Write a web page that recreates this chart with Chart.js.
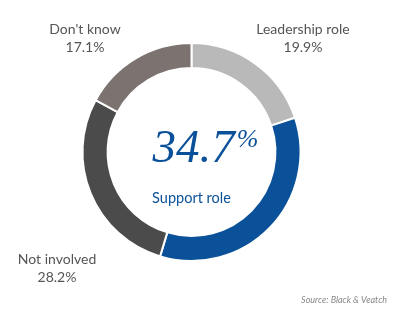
<!DOCTYPE html>
<html>
<head>
<meta charset="utf-8">
<script src="https://cdn.jsdelivr.net/npm/chart.js@4/dist/chart.umd.min.js"></script>
<style>
html,body{margin:0;padding:0;background:#fff;}
#wrap{position:relative;width:400px;height:324px;}
canvas{display:block;}
</style>
</head>
<body>
<div id="wrap"><canvas id="c" width="400" height="324"></canvas></div>
<script>
const categories = ["Leadership role", "Support role", "Not involved", "Don't know"];
const values = [19.9, 34.7, 28.2, 17.1];
const valueLabels = ["19.9%", "34.7%", "28.2%", "17.1%"];
const colors = ["#b9b9b9", "#0b5199", "#4b4b4b", "#7c7371"];
const highlight = { number: "34.7", unit: "%", label: "Support role" };
const source = "Source: Black & Veatch";

const labelPos = [
  { x: 303, y: 29 },
  null,
  { x: 57, y: 259 },
  { x: 85, y: 29 }
];

const textPlugin = {
  id: 'texts',
  afterDraw(chart) {
    const ctx = chart.ctx;
    const meta = chart.getDatasetMeta(0);
    const arc = meta.data[0];
    const cx = arc.x, cy = arc.y;
    ctx.save();
    ctx.textAlign = 'center';
    ctx.textBaseline = 'middle';
    ctx.fillStyle = '#555';
    ctx.font = '14px Lato, "Open Sans", sans-serif';
    categories.forEach((c, i) => {
      const p = labelPos[i];
      if (!p) return;
      ctx.fillText(c, p.x, p.y);
      ctx.fillText(valueLabels[i], p.x, p.y + 18);
    });
    // center
    ctx.fillStyle = '#0b5199';
    ctx.textAlign = 'left';
    ctx.textBaseline = 'alphabetic';
    ctx.font = 'italic 47px "Liberation Serif", "DejaVu Serif", serif';
    const nw = ctx.measureText(highlight.number).width;
    const startX = cx - 39;
    ctx.fillText(highlight.number, startX, cy + 10);
    ctx.font = 'italic 26px "Liberation Serif", "DejaVu Serif", serif';
    ctx.fillText(highlight.unit, startX + nw + 2, cy - 5);
    ctx.textAlign = 'center';
    ctx.textBaseline = 'middle';
    ctx.font = '14.5px Lato, "Open Sans", sans-serif';
    ctx.fillText(highlight.label, cx, cy + 46);
    // source
    ctx.fillStyle = '#888';
    ctx.font = 'italic 9px Lato, "Open Sans", sans-serif';
    ctx.textAlign = 'right';
    ctx.fillText(source, 387, 300);
    ctx.restore();
  }
};

new Chart(document.getElementById('c'), {
  type: 'doughnut',
  data: {
    labels: categories,
    datasets: [{
      data: values,
      backgroundColor: colors,
      borderColor: '#ffffff',
      borderWidth: 2,
      hoverOffset: 0
    }]
  },
  options: {
    responsive: false,
    animation: false,
    cutout: '77%',
    layout: { padding: { left: 81, right: 98, top: 42, bottom: 62 } },
    plugins: { legend: { display: false }, tooltip: { enabled: false } },
    events: []
  },
  plugins: [textPlugin]
});
</script>
</body>
</html>
